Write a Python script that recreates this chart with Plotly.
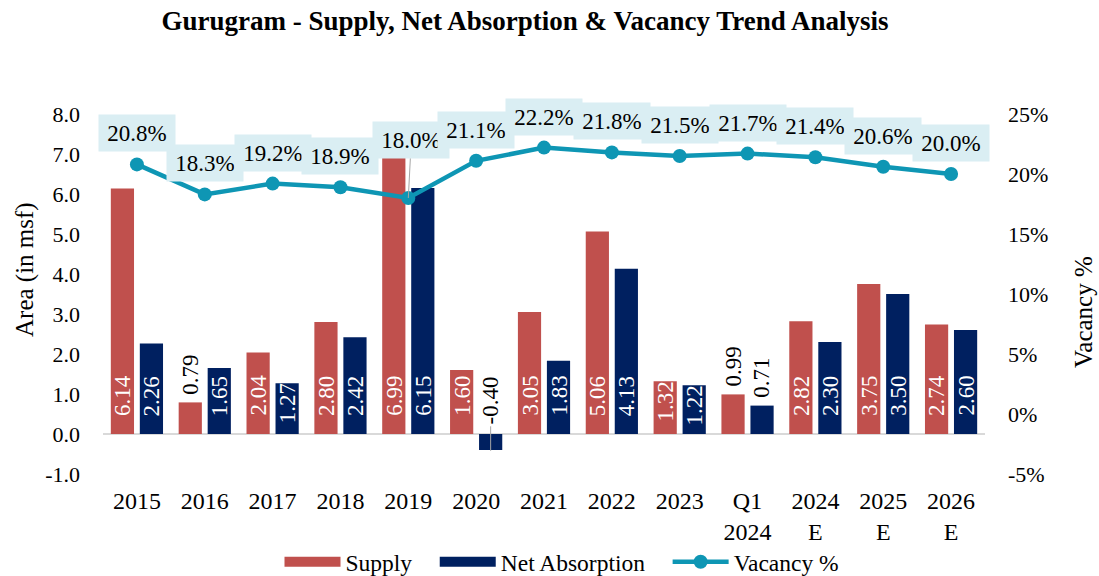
import plotly.graph_objects as go

# Categories and series
categories = ["2015", "2016", "2017", "2018", "2019", "2020", "2021", "2022", "2023",
              "Q1<br>2024", "2024<br>E", "2025<br>E", "2026<br>E"]
supply = [6.14, 0.79, 2.04, 2.80, 6.99, 1.60, 3.05, 5.06, 1.32, 0.99, 2.82, 3.75, 2.74]
net_absorption = [2.26, 1.65, 1.27, 2.42, 6.15, -0.40, 1.83, 4.13, 1.22, 0.71, 2.30, 3.50, 2.60]
vacancy = [20.8, 18.3, 19.2, 18.9, 18.0, 21.1, 22.2, 21.8, 21.5, 21.7, 21.4, 20.6, 20.0]

left_ticks = [-1, 0, 1, 2, 3, 4, 5, 6, 7, 8]
right_ticks = [-5, 0, 5, 10, 15, 20, 25]

RED = "#C0504D"
NAVY = "#002060"
TEAL = "#0E96B4"
BOX = "#DAEEF3"
FONT = "Liberation Serif, Times New Roman, serif"

PX_PER_UNIT = 40          # left axis: 9 units over 360 px
BAR_OFFSET = 14.5         # px from category centre to each bar centre
LABEL_LEN = 42            # approx. rotated label length in px
GAP = "\u00a0" * 3        # extra spacing after a legend entry

W, H = 1099, 576
ML, MR, MT, MB = 103, 114, 114, 102
pw, ph = W - ML - MR, H - MT - MB

fig = go.Figure()
fig.add_trace(go.Bar(x=categories, y=supply, name="Supply", marker_color=RED,
                     marker_line_width=0, yaxis="y", showlegend=False))
fig.add_trace(go.Bar(x=categories, y=net_absorption, name="Net Absorption",
                     marker_color=NAVY, marker_line_width=0, yaxis="y", showlegend=False))
fig.add_trace(go.Scatter(x=categories, y=vacancy, name="Vacancy %", yaxis="y2",
                         mode="lines+markers", showlegend=False,
                         line=dict(color=TEAL, width=4.5),
                         marker=dict(color=TEAL, size=14)))

# Legend keys: wide colour swatches for the bar series, line+marker for vacancy
fig.add_trace(go.Scatter(x=[None], y=[None], mode="lines", name="Supply" + GAP,
                         line=dict(color=RED, width=10)))
fig.add_trace(go.Scatter(x=[None], y=[None], mode="lines", name="Net Absorption" + GAP,
                         line=dict(color=NAVY, width=10)))
fig.add_trace(go.Scatter(x=[None], y=[None], mode="lines+markers", name="Vacancy %",
                         line=dict(color=TEAL, width=4.5), marker=dict(color=TEAL, size=14)))

annotations = []

# Bar value labels, rotated, at the base of each bar
def bar_label(idx, val, shift):
    h = abs(val) * PX_PER_UNIT
    if val < 0:
        # negative bar: label sits above the baseline with a leader line
        annotations.append(dict(x=idx, y=val * 1.05, xref="x", yref="y", text=f"{val:.2f}",
                                textangle=-90, showarrow=True, arrowhead=0,
                                arrowcolor="#A6A6A6", arrowwidth=1, ax=0, ay=-50,
                                xshift=shift, font=dict(size=23, color="black", family=FONT)))
    elif h < LABEL_LEN + 4:
        annotations.append(dict(x=idx, y=val, xref="x", yref="y", text=f"{val:.2f}",
                                textangle=-90, showarrow=False, yanchor="bottom",
                                xshift=shift, yshift=6,
                                font=dict(size=23, color="black", family=FONT)))
    else:
        pad = max(2, min(16, h - LABEL_LEN))
        annotations.append(dict(x=idx, y=0, xref="x", yref="y", text=f"{val:.2f}",
                                textangle=-90, showarrow=False, yanchor="bottom",
                                xshift=shift, yshift=pad,
                                font=dict(size=23, color="white", family=FONT)))

for i, (s, n) in enumerate(zip(supply, net_absorption)):
    bar_label(i, s, -BAR_OFFSET)
    bar_label(i, n, BAR_OFFSET)

# Vacancy labels in shaded boxes above the markers
box_style = dict(bgcolor=BOX, borderpad=4, width=68, height=28,
                 font=dict(size=23, color="black", family=FONT))
for i, v in enumerate(vacancy):
    if categories[i] == "2019":
        annotations.append(dict(x=i, y=v, xref="x", yref="y2", text=f"{v:.1f}%",
                                showarrow=True, arrowhead=0, arrowcolor="#A6A6A6",
                                arrowwidth=1, ax=3, ay=-58, standoff=0, **box_style))
    else:
        annotations.append(dict(x=i, y=v, xref="x", yref="y2", text=f"{v:.1f}%",
                                showarrow=False, yshift=31, **box_style))

# Axis titles (pixel positions converted to paper fractions)
annotations.append(dict(x=(25 - ML) / pw, y=(H - 270 - MB) / ph, xref="paper", yref="paper",
                        xanchor="center", yanchor="middle",
                        text="Area (in msf)", showarrow=False, textangle=-90,
                        font=dict(size=25, color="black", family=FONT)))
annotations.append(dict(x=(1083 - ML) / pw, y=(H - 312 - MB) / ph, xref="paper", yref="paper",
                        xanchor="center", yanchor="middle",
                        text="Vacancy %", showarrow=False, textangle=-90,
                        font=dict(size=25, color="black", family=FONT)))

fig.update_layout(
    width=W, height=H,
    margin=dict(l=ML, r=MR, t=MT, b=MB, autoexpand=False),
    paper_bgcolor="white", plot_bgcolor="white",
    font=dict(family=FONT, size=22, color="black"),
    title=dict(text="<b>Gurugram - Supply, Net Absorption & Vacancy Trend Analysis</b>",
               x=525 / W, xref="container", xanchor="center",
               y=1 - 21 / H, yref="container", yanchor="middle",
               font=dict(size=27, family=FONT, color="black")),
    barmode="group", bargap=0.145, bargroupgap=0.2,
    showlegend=True,
    legend=dict(orientation="h", x=(562 - ML) / pw, xanchor="center",
                y=-(562 - (H - MB)) / ph, yanchor="middle",
                font=dict(size=23.5, family=FONT), itemwidth=56, traceorder="normal",
                bgcolor="rgba(0,0,0,0)"),
    xaxis=dict(type="category", range=[-0.5, len(categories) - 0.5], autorange=False,
               showgrid=False, showline=False, ticks="", automargin=False,
               ticklabelstandoff=10, tickfont=dict(size=24)),
    yaxis=dict(range=[-1, 8], autorange=False, tickvals=left_ticks,
               ticktext=[f"{t:.1f}" for t in left_ticks], showgrid=False,
               zeroline=True, zerolinecolor="#D9D9D9", zerolinewidth=2, automargin=False,
               showline=False, ticklabelstandoff=22, tickfont=dict(size=22)),
    yaxis2=dict(range=[-5, 25], autorange=False, tickvals=right_ticks,
                ticktext=[f"{t}%" for t in right_ticks], overlaying="y",
                side="right", showgrid=False, zeroline=False, showline=False,
                automargin=False, ticklabelstandoff=22, tickfont=dict(size=22)),
    annotations=annotations,
)

fig.write_html("out.html")
